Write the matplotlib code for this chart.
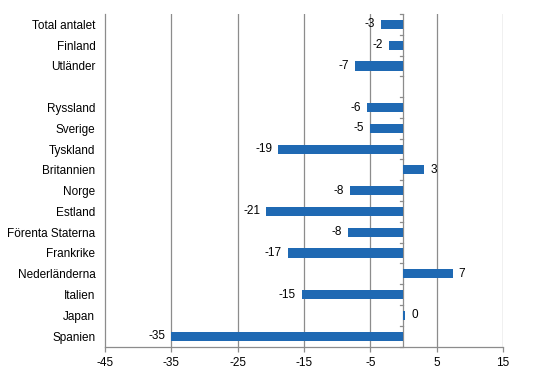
import matplotlib.pyplot as plt
import numpy as np

plt.rcParams['font.family'] = ['Liberation Sans', 'DejaVu Sans']

categories = ["Total antalet", "Finland", "Utländer", "",
              "Ryssland", "Sverige", "Tyskland", "Britannien", "Norge",
              "Estland", "Förenta Staterna", "Frankrike", "Nederländerna",
              "Italien", "Japan", "Spanien"]
values = [-3.4, -2.2, -7.3, None,
          -5.5, -5.0, -18.9, 3.1, -8.1,
          -20.7, -8.4, -17.4, 7.4,
          -15.3, 0.25, -35.0]
labels = ["-3", "-2", "-7", "",
          "-6", "-5", "-19", "3", "-8",
          "-21", "-8", "-17", "7",
          "-15", "0", "-35"]
xticks = [-45, -35, -25, -15, -5, 5, 15]

fig = plt.figure(figsize=(5.46, 3.76), dpi=100)
ax = fig.add_axes([105 / 546, 1 - 346.5 / 376, 398 / 546, 332.5 / 376])

grid_c = "#8c8c8c"
bar_c = "#1f69b3"

pos = np.arange(len(categories))
for p, v, lab in zip(pos, values, labels):
    if v is None:
        continue
    ax.barh(p, v, height=0.44, color=bar_c, zorder=3)
    if v < 0:
        ax.text(v - 0.9, p, lab, ha="right", va="center", fontsize=8.5, zorder=4)
    else:
        ax.text(v + 0.9, p, lab, ha="left", va="center", fontsize=8.5, zorder=4)

ax.set_xlim(-45, 15)
ax.set_ylim(len(categories) - 0.5, -0.5)

for x in xticks[1:]:
    ax.axvline(x, color=grid_c, lw=0.9, zorder=1)

# category axis at zero with tick marks between categories
ax.axvline(0, color=grid_c, lw=0.9, zorder=2)
for b in np.arange(-0.5, len(categories), 1.0):
    ax.plot([-0.6, 0], [b, b], color=grid_c, lw=0.9, zorder=2, clip_on=False)

ax.set_xticks(xticks)
ax.set_xticklabels([str(x) for x in xticks], fontsize=8.5)
ax.set_yticks(pos)
ax.set_yticklabels(categories, fontsize=8.5)
ax.tick_params(axis="y", length=0, pad=7)
ax.tick_params(axis="x", length=3.5, color=grid_c, width=0.9, pad=4)

for s in ["top", "right"]:
    ax.spines[s].set_visible(False)
for s in ["left", "bottom"]:
    ax.spines[s].set_color(grid_c)
    ax.spines[s].set_linewidth(0.9)

fig.savefig("out.png", dpi=100)
